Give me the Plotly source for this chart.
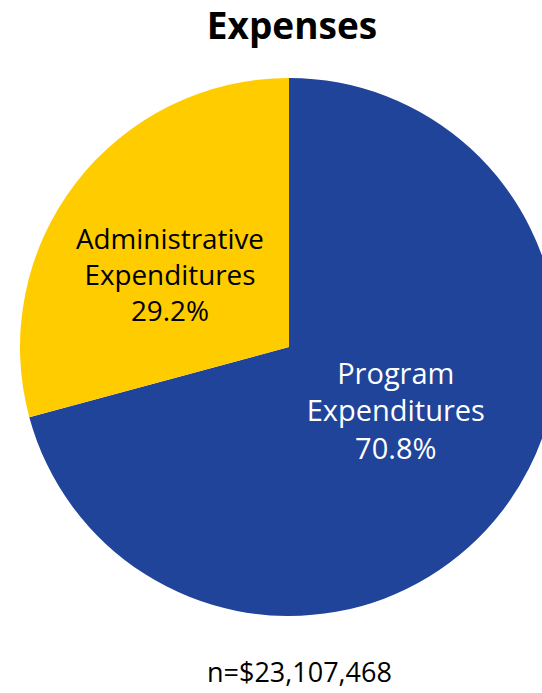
import plotly.graph_objects as go

labels = ["Program<br>Expenditures", "Administrative<br>Expenditures"]
values = [70.8, 29.2]
colors = ["#1f4499", "#ffcc00"]
text_colors = ["#ffffff", "#000000"]
title_text = "Expenses"
note_text = "n=$23,107,468"

# leading / trailing blank lines nudge the label block inside each slice
pre = ["", " <br>"]
post = ["<br> ", ""]

fig = go.Figure(go.Pie(
    labels=labels,
    values=values,
    sort=False,
    direction="clockwise",
    rotation=0,
    marker=dict(colors=colors, line=dict(width=0)),
    customdata=list(zip(pre, post)),
    texttemplate="%{customdata[0]}%{label}<br>%{percent:.1%}%{customdata[1]}",
    textposition="inside",
    insidetextorientation="horizontal",
    insidetextfont=dict(color=text_colors, size=29, family="Open Sans"),
    hoverinfo="label+percent",
    showlegend=False,
))

fig.update_layout(
    width=578, height=693,
    margin=dict(l=20, r=20, t=78, b=77),
    paper_bgcolor="white",
    font=dict(family="Open Sans"),
    title=dict(text="<b>" + title_text + "</b>", x=292/578, xanchor="center",
               y=1-26/693, yanchor="middle", font=dict(size=37, color="black")),
    annotations=[dict(text=note_text, x=300/578, xref="paper", xanchor="center",
                      y=1-(672-78)/538 , yref="paper", yanchor="middle",
                      showarrow=False, font=dict(size=27, color="black"))],
)

fig.write_html("out.html", config={"displayModeBar": False},
               post_script="document.body.style.overflow='hidden';document.body.style.margin='0';")
